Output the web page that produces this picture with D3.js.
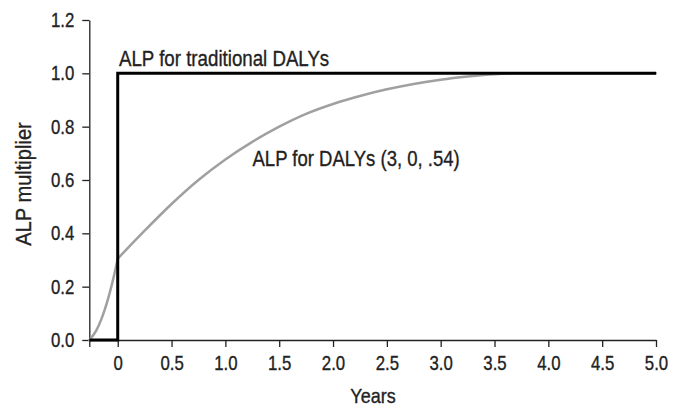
<!DOCTYPE html>
<html>
<head>
<meta charset="utf-8">
<script src="https://cdn.jsdelivr.net/npm/d3@7"></script>
<style>
  html, body { margin: 0; padding: 0; background: #fff; }
  svg { display: block; }
  svg text { stroke: #222; stroke-width: 0.35px; }
</style>
</head>
<body>
<svg id="chart" width="679" height="409"></svg>
<script>
// ---- data ----
const xDomain = [-0.264, 5];
const yDomain = [0, 1.2];
const xTickValues = [-0.264, 0, 0.5, 1.0, 1.5, 2.0, 2.5, 3.0, 3.5, 4.0, 4.5, 5.0];
const xTickLabels = ["", "0", "0.5", "1.0", "1.5", "2.0", "2.5", "3.0", "3.5", "4.0", "4.5", "5.0"];
const yTickValues = [0, 0.2, 0.4, 0.6, 0.8, 1.0, 1.2];
const yTickLabels = ["0.0", "0.2", "0.4", "0.6", "0.8", "1.0", "1.2"];

// traditional DALYs: step at age 0
const tradX = [-0.264, 0, 0, 5];
const tradY = [0, 0, 1, 1];

// DALYs (3, 0, .54)
const dalyX = [-0.264, -0.2, -0.15, -0.1, -0.05, 0, 0.25, 0.5, 0.75, 1.0, 1.25, 1.5, 1.75, 2.0, 2.25, 2.5, 2.75, 3.0, 3.25, 3.5, 3.75, 4.0, 4.5, 5.0];
const dalyY = [0, 0.035, 0.08, 0.14, 0.215, 0.305, 0.41, 0.51, 0.60, 0.677, 0.743, 0.80, 0.848, 0.885, 0.915, 0.94, 0.96, 0.976, 0.988, 0.997, 1.0, 1.0, 1.0, 1.0];

const labelTrad = "ALP for traditional DALYs";
const labelDaly = "ALP for DALYs (3, 0, .54)";
const xTitle = "Years";
const yTitle = "ALP multiplier";

// ---- chart ----
const svg = d3.select("#chart");
const mLeft = 89.3, mRight = 656, mTop = 20, mBottom = 340;
const fontFam = '"Liberation Sans", Arial, sans-serif';
const ink = "#222";

const x = d3.scaleLinear().domain(xDomain).range([mLeft, mRight]);
const y = d3.scaleLinear().domain(yDomain).range([mBottom, mTop]);

// horizontally condense text about its x anchor
function condense(sel, s) {
  sel.each(function () {
    const t = d3.select(this);
    const ax = +t.attr("x") || 0;
    t.attr("transform", `translate(${ax * (1 - s)},0) scale(${s},1)`);
  });
}

const yAxis = svg.append("g")
  .attr("transform", `translate(${mLeft},0)`)
  .call(d3.axisLeft(y).tickValues(yTickValues)
    .tickFormat((d, i) => yTickLabels[i]).tickSize(7).tickPadding(8).tickSizeOuter(0));
yAxis.selectAll("text").attr("font-size", 20).attr("font-family", fontFam).attr("fill", ink).call(condense, 0.84);

const xAxis = svg.append("g")
  .attr("transform", `translate(0,${mBottom})`)
  .call(d3.axisBottom(x).tickValues(xTickValues)
    .tickFormat((d, i) => xTickLabels[i]).tickSize(7).tickPadding(9).tickSizeOuter(0));
xAxis.selectAll("text").attr("font-size", 20).attr("font-family", fontFam).attr("fill", ink).call(condense, 0.84);

svg.selectAll(".domain, .tick line").attr("stroke", ink).attr("stroke-width", 1.3);

// lines
const dalyData = dalyX.map((d, i) => [d, dalyY[i]]);
const tradData = tradX.map((d, i) => [d, tradY[i]]);
const curveLine = d3.line().x(d => x(d[0])).y(d => y(d[1])).curve(d3.curveMonotoneX);

// the curve has a slope break at age 0; draw both pieces
[dalyData.filter(d => d[0] <= 0), dalyData.filter(d => d[0] >= 0)].forEach(seg => {
  svg.append("path")
    .datum(seg)
    .attr("fill", "none")
    .attr("stroke", "#a0a0a0")
    .attr("stroke-width", 2.5)
    .attr("stroke-linecap", "round")
    .attr("d", curveLine);
});

svg.append("path")
  .datum(tradData)
  .attr("fill", "none")
  .attr("stroke", "#000")
  .attr("stroke-width", 3)
  .attr("stroke-linejoin", "miter")
  .attr("d", d3.line().x(d => x(d[0])).y(d => y(d[1])));

// annotations
svg.append("text")
  .attr("x", 119).attr("y", 66)
  .attr("font-family", fontFam).attr("fill", ink)
  .attr("font-size", 22)
  .text(labelTrad)
  .call(condense, 0.85);

svg.append("text")
  .attr("x", 252.5).attr("y", 166.5)
  .attr("font-family", fontFam).attr("fill", ink)
  .attr("font-size", 22)
  .text(labelDaly)
  .call(condense, 0.842);

svg.append("text")
  .attr("x", 373).attr("y", 403)
  .attr("text-anchor", "middle")
  .attr("font-family", fontFam).attr("fill", ink)
  .attr("font-size", 21)
  .text(xTitle)
  .call(condense, 0.857);

svg.append("text")
  .attr("transform", "translate(31,184) rotate(-90) scale(0.914,1)")
  .attr("text-anchor", "middle")
  .attr("font-family", fontFam).attr("fill", ink)
  .attr("font-size", 22)
  .text(yTitle);
</script>
</body>
</html>
